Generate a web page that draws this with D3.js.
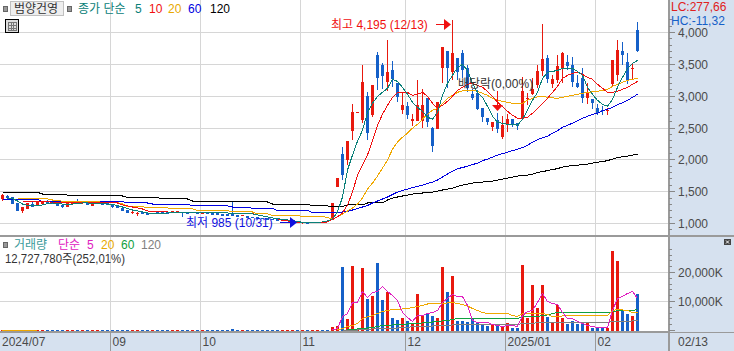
<!DOCTYPE html>
<html>
<head>
<meta charset="utf-8">
<script src="https://d3js.org/d3.v7.min.js"></script>
<style>
  html, body { margin: 0; padding: 0; background: #fff; }
  svg { display: block; }
  text { font-family: "Liberation Sans", "Noto Sans CJK KR", sans-serif; font-size: 12px; }
</style>
</head>
<body>
<div id="chart"></div>
<script>
// daily candles, 2024/07 .. 2025/02/13
const opens = [1385,1432,1416,1322,1197,1228,1306,1275,1306,1353,
  1338,1322,1291,1259,1306,1353,1322,1322,1275,1306,
  1322,1322,1291,1275,1244,1212,1166,1150,1181,1166,
  1150,1181,1181,1181,1181,1181,1181,1181,1166,1166,
  1150,1181,1166,1166,1150,1150,1150,1134,1119,1119,
  1103,1103,1087,1087,1072,1072,1040,1033,1025,1025,
  1009,1017,1017,1017,1025,1040,1056,1573,2090,1995,
  2450,2750,2622,3000,2700,3640,3483,3217,3405,3201,
  2778,2841,2606,2606,2606,2967,2497,2481,3436,3702,
  3374,3593,3671,3436,3029,3045,2810,2653,2512,2622,
  2356,2543,2637,2575,2637,2951,3029,3170,3389,3593,
  3186,3248,3436,3530,3483,3201,3280,2967,2951,2810,
  2778,2763,3186,3327,3702,3530,3420,4047];
const highs = [1463,1450,1416,1322,1259,1322,1338,1338,1353,1369,
  1338,1322,1291,1322,1353,1385,1353,1322,1322,1338,
  1322,1322,1291,1275,1244,1212,1212,1181,1181,1166,
  1166,1181,1181,1181,1197,1197,1181,1181,1181,1166,
  1181,1181,1166,1166,1150,1150,1338,1134,1134,1119,
  1103,1103,1087,1087,1072,1072,1056,1048,1040,1025,
  1025,1017,1025,1025,1025,1040,1322,1714,2199,2293,
  2872,2750,3483,3060,3170,3700,3514,3890,3546,3201,
  3060,2904,2716,3248,3107,2967,2512,2904,3765,3702,
  4195,3593,3718,3483,3107,3092,2810,2653,2590,2731,
  2685,2716,2637,2575,3295,3045,3280,3483,4140,3640,
  3327,3640,3687,3640,3608,3327,3436,3201,2951,2872,
  2841,2810,3561,3875,3843,3671,3500,4172];
const lows = [1353,1385,1306,1197,1166,1228,1259,1275,1306,1322,
  1306,1275,1244,1259,1306,1322,1306,1291,1275,1306,
  1291,1291,1244,1244,1197,1166,1150,1119,1150,1134,
  1150,1150,1150,1150,1181,1181,1103,1150,1166,1150,
  1150,1150,1134,1134,1119,1119,1119,1103,1119,1087,
  1087,1072,1072,1056,1048,1040,1040,1033,1025,1009,
  985,1000,1017,1017,1017,1020,1056,1573,1682,1917,
  2309,2750,2575,2309,2669,3092,3107,3076,3139,2904,
  2716,2638,2528,2606,2497,2512,2121,2481,3201,3123,
  3248,3248,3280,3060,2935,2778,2590,2543,2450,2418,
  2324,2434,2512,2465,2622,2857,3013,3123,3311,3201,
  3123,3201,3201,3405,3139,3123,2888,2872,2794,2700,
  2700,2700,3139,3232,3483,3186,3248,3687];
const closes = [1447,1400,1306,1197,1259,1322,1259,1338,1353,1322,
  1306,1275,1259,1322,1353,1322,1338,1291,1322,1338,
  1291,1291,1259,1244,1197,1166,1181,1166,1150,1134,
  1166,1150,1150,1150,1197,1197,1166,1150,1181,1150,
  1181,1150,1134,1134,1119,1119,1119,1103,1134,1087,
  1087,1072,1072,1056,1048,1040,1056,1048,1040,1009,
  1025,1000,1025,1025,1017,1020,1322,1714,1760,2293,
  2747,2750,3217,2418,3170,3280,3311,3374,3264,2982,
  2857,2700,2638,2857,2857,2590,2215,2904,3765,3436,
  3671,3374,3405,3123,2967,2794,2669,2590,2590,2481,
  2543,2637,2543,2528,3076,2967,3107,3389,3577,3264,
  3264,3468,3671,3468,3217,3139,2967,3060,2888,2731,
  2763,2778,3561,3718,3640,3248,3450,3702];

const ma5 = [null,1400,1393,1353,1306,1283,1275,1275,1291,1314,
  1322,1314,1306,1298,1306,1314,1322,1322,1314,1314,
  1314,1306,1298,1283,1259,1236,1212,1197,1181,1166,
  1158,1158,1158,1166,1166,1166,1166,1166,1166,1166,
  1166,1166,1166,1166,1166,1166,1158,1158,1158,1158,
  1150,1134,1119,1103,1087,1079,1064,1056,1048,1033,
  1017,1017,1017,1017,1025,1040,1072,1181,1416,1839,
  2074,2293,2465,2747,2888,2998,3060,3123,3264,3232,
  3139,3029,2904,2825,2763,2669,2638,2747,3013,3201,
  3327,3452,3499,3405,3201,3060,2982,2841,2685,2591,
  2575,2559,2559,2543,2637,2778,2935,3060,3280,3374,
  3389,3405,3436,3436,3436,3389,3327,3139,3029,2935,
  2872,2841,2951,3139,3295,3436,3514,3561];
const ma10 = [null,null,null,null,1345,1345,1345,1345,1345,1345,
  1330,1330,1330,1330,1330,1330,1330,1330,1330,1330,
  1322,1322,1322,1322,1291,1275,1259,1244,1228,1197,
  1189,1181,1181,1181,1173,1173,1173,1173,1173,1173,
  1166,1166,1166,1166,1166,1166,1158,1158,1158,1158,
  1158,1134,1119,1103,1087,1072,1048,1040,1025,1009,
  1009,1009,1009,1017,1017,1025,1072,1103,1166,1291,
  1494,1760,1917,2074,2309,2543,2716,2857,2982,3060,
  3060,3060,3013,3029,3060,2998,2888,2810,2857,2919,
  2998,3092,3139,3186,3201,3170,3139,3076,2998,2904,
  2841,2763,2700,2653,2653,2669,2731,2810,2888,2966,
  3060,3154,3280,3327,3358,3374,3342,3295,3264,3186,
  3123,3060,3060,3076,3107,3139,3186,3232];
const ma20 = [null,null,null,1385,1385,1385,1385,1385,1385,1385,
  1369,1369,1345,1345,1345,1345,1345,1345,1345,1345,
  1330,1330,1330,1330,1306,1267,1267,1267,1267,1244,
  1244,1244,1244,1244,1228,1228,1228,1228,1228,1205,
  1205,1205,1205,1205,1205,1205,1181,1181,1181,1181,
  1181,1150,1150,1150,1126,1126,1126,1126,1126,1126,
  1111,1111,1111,1111,1111,1095,1072,1103,1150,1197,
  1244,1306,1400,1541,1635,1745,1870,1995,2168,2277,
  2355,2418,2497,2559,2638,2716,2778,2810,2888,2966,
  3013,3060,3084,3092,3092,3076,3045,3013,2966,2935,
  2919,2904,2888,2888,2888,2935,2966,2990,2998,2982,
  2974,2966,2982,2998,3013,3029,3045,3060,3068,3076,
  3092,3107,3154,3186,3217,3248,3264,3280];
const ma60 = [1377,1377,1377,1377,1377,1377,1377,1377,1345,1345,
  1345,1345,1345,1345,1345,1345,1345,1345,1345,1345,
  1345,1345,1345,1345,1345,1322,1322,1322,1322,1322,
  1306,1306,1306,1306,1306,1306,1306,1306,1275,1275,
  1275,1275,1275,1275,1275,1275,1259,1259,1259,1259,
  1236,1236,1236,1236,1236,1205,1205,1205,1205,1205,
  1205,1205,1173,1173,1173,1173,1173,1173,1181,1189,
  1212,1236,1259,1283,1322,1353,1385,1416,1455,1494,
  1518,1541,1565,1580,1604,1627,1651,1682,1729,1776,
  1823,1862,1878,1901,1925,1948,1988,2011,2042,2074,
  2097,2121,2144,2168,2191,2230,2277,2316,2348,2371,
  2418,2457,2512,2543,2575,2614,2653,2684,2716,2731,
  2770,2794,2825,2865,2896,2935,2982,3029];
const ma120 = [1494,1494,1494,1494,1490,1490,1490,1490,1463,1463,
  1463,1463,1463,1447,1447,1447,1447,1447,1432,1432,
  1432,1432,1432,1432,1432,1408,1408,1408,1408,1408,
  1408,1408,1385,1385,1385,1385,1385,1385,1353,1353,
  1353,1353,1353,1353,1338,1338,1338,1338,1338,1338,
  1338,1338,1338,1338,1306,1306,1306,1306,1306,1306,
  1306,1306,1275,1275,1275,1275,1265,1265,1265,1291,
  1291,1291,1291,1322,1322,1322,1322,1369,1400,1416,
  1432,1447,1463,1470,1479,1486,1494,1510,1526,1541,
  1557,1580,1604,1620,1635,1651,1651,1667,1667,1682,
  1698,1714,1729,1745,1753,1760,1776,1800,1815,1831,
  1847,1862,1886,1901,1909,1917,1925,1933,1948,1964,
  1972,1988,2011,2034,2050,2058,2074,2089];

// volume in thousands of shares
const volumes = [10,10,10,10,10,10,10,10,10,10,
  10,10,10,10,10,10,10,10,10,10,
  10,10,10,10,10,10,10,10,10,10,
  10,10,10,10,10,10,10,10,10,10,
  10,10,10,10,10,10,400,10,10,10,
  10,10,10,10,10,10,10,10,10,10,
  10,10,10,10,10,10,1035,1380,21735,3795,
  22080,345,21390,10695,11730,23115,10350,13110,4140,3450,
  4140,3105,2070,12420,5175,5865,4830,4140,21735,13110,
  18630,3105,3105,2760,4140,2760,1725,1380,2070,1725,
  1380,2415,690,690,22425,4140,15525,7590,15525,4485,
  2415,8625,4140,2070,3105,2070,2760,2415,690,690,
  690,690,27255,23805,6555,5520,4830,12727];

// volume averages only start at the 11 rally, index 66 on
const volMaStart = 66;
const volMa5 = [170,690,4830,5865,9660,9660,13455,11385,13110,13455,
  15180,13455,12075,10350,6210,4485,3105,5175,5175,5865,
  6210,6900,9660,11040,12420,11730,11730,8625,3450,2760,
  2760,2760,2070,1725,1380,1725,1725,1380,5175,6555,
  6900,9660,12765,10005,9315,8970,6210,4140,4140,3105,
  2415,1725,1380,1035,1035,1035,6900,11040,11730,12765,
  13455,11040];
const volMa20 = [null,170,690,1380,1725,2415,4140,4660,5175,5865,
  6555,6900,7245,7245,7420,7590,7935,8280,8625,9140,
  9315,9315,9315,9490,9660,9315,8970,8450,7590,6900,
  6210,5865,5865,5865,5865,5865,5175,4830,5865,5865,
  5865,5865,5865,5520,4830,4830,5000,5175,5175,5175,
  5175,5175,5175,5175,5175,5175,6900,7245,7070,6900,
  6210,6210];
const volMa60 = [null,null,null,170,345,520,690,860,1035,1380,
  1725,1725,1900,2070,2070,2240,2415,2415,2590,2760,
  2930,3105,3280,3450,3795,4140,4140,4140,4140,4140,
  4140,4140,4140,4140,4140,4140,4140,4140,4830,4830,
  4830,4830,5175,5350,5865,6210,6210,6210,6210,6210,
  6210,6210,6210,6210,6210,6210,6380,6900,6900,6900,
  6900,7245];
const volMa120 = [null,null,170,170,170,170,345,345,520,520,
  690,690,860,860,1035,1035,1380,1380,1550,1550,
  1550,1725,1725,1725,1900,1900,1900,2070,2070,2070,
  2070,2070,2070,2070,2070,2070,2070,2070,2415,2415,
  2415,2760,2760,2760,2760,2760,2760,2760,2760,2760,
  2760,2760,2760,2760,2760,2760,3105,3105,3105,3105,
  3280,3280];
const volMa20Early = [60,60,60,60,60,60,60,60];

const priceTicks = [1000,1500,2000,2500,3000,3500,4000];
const volTicks = [10000,20000];
const dateTicks = [{i:22,label:'09'},{i:40,label:'10'},{i:60,label:'11'},{i:81,label:'12'},{i:101,label:'2025/01'},{i:119,label:'02'}];

const width = 734, height = 351;
const axisX = 669, bandY = 333, dividerY = 235;
const upColor = '#e8190e', downColor = '#1560c8', gridColor = '#d6d6d6', lineGrey = '#9a9a9a', panelBg = '#d6e1ef';

const svg = d3.select('#chart').append('svg').attr('width', width).attr('height', height);

const x = d3.scaleLinear().domain([0, 127]).range([2, 637]);
const yPrice = d3.scaleLinear().domain([1000, 4000]).range([223.5, 32.5]);
const yVol = d3.scaleLinear().domain([0, 20000]).range([330.5, 272.5]);

// gridlines
const grid = svg.append('g').attr('shape-rendering', 'crispEdges').attr('stroke', gridColor);
grid.selectAll('.h').data(priceTicks).join('line').attr('x1', 0).attr('x2', axisX)
  .attr('y1', d => yPrice(d)).attr('y2', d => yPrice(d));
grid.selectAll('.hv').data(volTicks).join('line').attr('x1', 0).attr('x2', axisX)
  .attr('y1', d => yVol(d)).attr('y2', d => yVol(d));
grid.selectAll('.v').data(dateTicks).join('line')
  .attr('x1', d => x(d.i) - 1.5).attr('x2', d => x(d.i) - 1.5).attr('y1', 0).attr('y2', bandY);

// candles
const idx = d3.range(opens.length);
const candles = svg.append('g').attr('shape-rendering', 'crispEdges');
const candleColor = i => closes[i] >= opens[i] ? upColor : downColor;
candles.selectAll('.wick').data(idx).join('rect')
  .attr('class', 'wick')
  .attr('x', i => x(i)).attr('width', 1)
  .attr('y', i => yPrice(highs[i]))
  .attr('height', i => Math.max(1, yPrice(lows[i]) - yPrice(highs[i])))
  .attr('fill', candleColor);
candles.selectAll('.body').data(idx).join('rect')
  .attr('class', 'body')
  .attr('x', i => x(i) - 1).attr('width', 3)
  .attr('y', i => yPrice(Math.max(opens[i], closes[i])))
  .attr('height', i => Math.max(1, Math.abs(yPrice(opens[i]) - yPrice(closes[i]))))
  .attr('fill', candleColor);

// moving averages
const priceLine = d3.line().defined(d => d != null).x((d, i) => x(i) + 0.5).y(d => yPrice(d));
[[ma120, '#000000'], [ma60, '#0000e0'], [ma20, '#f0a800'], [ma10, '#f01010'], [ma5, '#0a8078']].forEach(s => {
  svg.append('path').datum(s[0]).attr('d', priceLine).attr('fill', 'none')
    .attr('stroke', s[1]).attr('stroke-width', 1).attr('shape-rendering', 'crispEdges');
});

// volume bars
svg.append('g').attr('shape-rendering', 'crispEdges').selectAll('rect').data(idx).join('rect')
  .attr('x', i => x(i) - 1).attr('width', 3)
  .attr('y', i => yVol(volumes[i]))
  .attr('height', i => yVol(0) - yVol(volumes[i]))
  .attr('fill', candleColor);

const volLine = d3.line().defined(d => d != null).x((d, i) => x(i + volMaStart) + 0.5).y(d => yVol(d));
[[volMa120, '#808080'], [volMa60, '#10a040'], [volMa20, '#f0a800'], [volMa5, '#e020c0']].forEach(s => {
  svg.append('path').datum(s[0]).attr('d', volLine).attr('fill', 'none')
    .attr('stroke', s[1]).attr('stroke-width', 1).attr('shape-rendering', 'crispEdges');
});
svg.append('path').datum(volMa20Early)
  .attr('d', d3.line().x((d, i) => x(i)).y(d => yVol(d))).attr('fill', 'none')
  .attr('stroke', '#f0a800').attr('shape-rendering', 'crispEdges');

// axis panels
const chrome = svg.append('g').attr('shape-rendering', 'crispEdges');
chrome.append('rect').attr('x', axisX).attr('y', 0).attr('width', width - axisX).attr('height', height).attr('fill', panelBg);
chrome.append('rect').attr('x', 0).attr('y', bandY).attr('width', width).attr('height', height - bandY).attr('fill', panelBg);
chrome.append('rect').attr('x', axisX - 1).attr('y', 0).attr('width', 2).attr('height', height).attr('fill', lineGrey);
chrome.append('rect').attr('x', 0).attr('y', dividerY).attr('width', width).attr('height', 1.5).attr('fill', lineGrey);
chrome.append('rect').attr('x', 0).attr('y', 331).attr('width', axisX).attr('height', 1).attr('fill', lineGrey);
chrome.append('rect').attr('x', 0).attr('y', bandY - 1).attr('width', width).attr('height', 1).attr('fill', lineGrey);

// price ticks, every 100
chrome.selectAll('.pt').data(d3.range(900, 4201, 100)).join('line')
  .attr('class', 'pt')
  .attr('x1', axisX).attr('x2', d => axisX + (d % 500 === 0 ? 6 : 3))
  .attr('y1', d => yPrice(d)).attr('y2', d => yPrice(d)).attr('stroke', '#888');
// volume ticks
chrome.selectAll('.vt').data(d3.range(0, 32001, 2000).filter(d => yVol(d) > 245)).join('line')
  .attr('class', 'vt')
  .attr('x1', axisX).attr('x2', d => axisX + (d % 10000 === 0 ? 6 : 3))
  .attr('y1', d => yVol(d)).attr('y2', d => yVol(d)).attr('stroke', '#888');
chrome.selectAll('.dt').data(dateTicks).join('line')
  .attr('class', 'dt')
  .attr('x1', d => x(d.i) - 1.5).attr('x2', d => x(d.i) - 1.5).attr('y1', bandY).attr('y2', height).attr('stroke', lineGrey);

const axisText = '#4a4a4a';
svg.selectAll('.pl').data(priceTicks).join('text').attr('class', 'pl')
  .attr('x', 678).attr('y', d => yPrice(d) + 4.5).attr('fill', axisText)
  .text(d => d3.format(',')(d));
svg.selectAll('.vl').data(volTicks).join('text').attr('class', 'vl')
  .attr('x', 678).attr('y', d => yVol(d) + 4.5).attr('fill', axisText)
  .text(d => d3.format(',')(d) + 'K');
svg.append('text').attr('x', 2).attr('y', 346).attr('fill', axisText).text('2024/07');
svg.selectAll('.dl').data(dateTicks).join('text').attr('class', 'dl')
  .attr('x', d => x(d.i) + 0.5).attr('y', 346).attr('fill', axisText).text(d => d.label);
svg.append('text').attr('x', 678).attr('y', 346).attr('fill', axisText).text('02/13');
svg.append('text').attr('x', 671).attr('y', 11).attr('fill', '#e02020').text('LC:277,66');
svg.append('text').attr('x', 671).attr('y', 24.5).attr('fill', '#1560c8').text('HC:-11,32');

// header legend
const smallSquare = (px, py) => svg.append('rect').attr('x', px).attr('y', py).attr('width', 4).attr('height', 5)
  .attr('fill', '#999').attr('stroke', '#666').attr('shape-rendering', 'crispEdges');
smallSquare(3, 6);
svg.append('rect').attr('x', 10.5).attr('y', 1.5).attr('width', 53).attr('height', 14)
  .attr('fill', '#eeeeee').attr('stroke', '#c0c0c0').attr('shape-rendering', 'crispEdges');
svg.append('text').attr('x', 14).attr('y', 13).attr('fill', '#333').text('범양건영');
smallSquare(67, 6);
const legendTop = [['종가 단순', 78, '#0a8078'], ['5', 135, '#0a8078'], ['10', 149, '#f01010'], ['20', 168, '#e8a800'], ['60', 188, '#0000e0'], ['120', 210, '#000']];
svg.selectAll('.lt').data(legendTop).join('text').attr('class', 'lt')
  .attr('x', d => d[1]).attr('y', 13).attr('fill', d => d[2]).text(d => d[0]);

// table icon
svg.append('rect').attr('x', 5.5).attr('y', 19.5).attr('width', 13).attr('height', 13)
  .attr('fill', '#ddd').attr('stroke', '#000').attr('shape-rendering', 'crispEdges');
svg.append('path').attr('d', 'M8 22H16V30H8ZM8 25H16M8 28H16M11 22V30M13.5 22V30').attr('fill', 'none')
  .attr('stroke', '#777').attr('shape-rendering', 'crispEdges');

// volume legend
smallSquare(3, 242);
const legendVol = [['거래량', 14, '#3a9a9a'], ['단순', 58, '#e020c0'], ['5', 87, '#e020c0'], ['20', 101, '#e8a800'], ['60', 121, '#10a040'], ['120', 141, '#808080']];
svg.selectAll('.lv').data(legendVol).join('text').attr('class', 'lv')
  .attr('x', d => d[1]).attr('y', 249).attr('fill', d => d[2]).text(d => d[0]);
svg.append('text').attr('x', 5).attr('y', 263).attr('fill', '#333')
  .attr('textLength', 120).attr('lengthAdjust', 'spacingAndGlyphs').text('12,727,780주(252,01%)');

// panel resize icon
svg.append('rect').attr('x', 724).attr('y', 239).attr('width', 7).attr('height', 6).attr('fill', '#444').attr('shape-rendering', 'crispEdges');
svg.append('path').attr('d', 'M726 240.5L729 243.5M729 240.5L726 243.5').attr('stroke', '#fff').attr('fill', 'none');

// annotations
svg.append('text').attr('x', 331).attr('y', 29).attr('fill', '#f01010').text('최고 4,195 (12/13)');
svg.append('path').attr('d', 'M436 24.5H444').attr('stroke', '#f01010').attr('shape-rendering', 'crispEdges');
svg.append('path').attr('d', d3.line()([[444, 19], [451, 24.5], [444, 30]])).attr('fill', '#f01010');

svg.append('text').attr('x', 186).attr('y', 227).attr('fill', '#1010e0').text('최저 985 (10/31)');
svg.append('path').attr('d', 'M280 222.5H290').attr('stroke', '#1010e0').attr('shape-rendering', 'crispEdges');
svg.append('path').attr('d', d3.line()([[290, 217], [297, 222.5], [290, 228]])).attr('fill', '#1010e0');

svg.append('text').attr('x', 458).attr('y', 88).attr('fill', '#333').text('배당락(0,00%)');
svg.append('path').attr('d', 'M497.5 91V105').attr('stroke', '#f01010').attr('shape-rendering', 'crispEdges');
svg.append('path').attr('d', d3.line()([[492, 105], [503, 105], [497.5, 111]])).attr('fill', '#f01010');
</script>
</body>
</html>
